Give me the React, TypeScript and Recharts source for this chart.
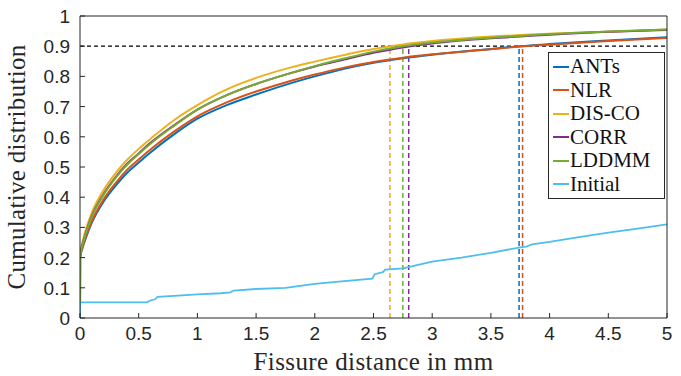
import React from 'react';
import { LineChart, Line, XAxis, YAxis, ReferenceLine, Legend } from 'recharts';

// Shared x grid for the registered-method CDFs (mm)
const methodX = [0, 0.001, 0.02, 0.05, 0.1, 0.2, 0.3, 0.4, 0.5, 0.6, 0.8, 1, 1.25, 1.5, 1.75, 2, 2.25, 2.5, 2.75, 3, 3.5, 3.75, 4, 4.5, 5];
const antsY = [0, 0.2, 0.23, 0.265, 0.315, 0.385, 0.437, 0.48, 0.515, 0.548, 0.608, 0.66, 0.705, 0.74, 0.772, 0.8, 0.825, 0.845, 0.86, 0.872, 0.891, 0.9, 0.907, 0.919, 0.93];
const nlrY = [0, 0.2, 0.232, 0.27, 0.32, 0.392, 0.445, 0.49, 0.525, 0.558, 0.617, 0.668, 0.714, 0.75, 0.78, 0.806, 0.829, 0.848, 0.862, 0.873, 0.89, 0.899, 0.905, 0.917, 0.927];
const discoY = [0, 0.21, 0.25, 0.293, 0.348, 0.423, 0.478, 0.523, 0.56, 0.593, 0.655, 0.705, 0.757, 0.795, 0.825, 0.849, 0.871, 0.891, 0.906, 0.917, 0.932, 0.937, 0.941, 0.948, 0.955];
const corrY = [0, 0.2, 0.24, 0.282, 0.337, 0.41, 0.465, 0.51, 0.545, 0.58, 0.638, 0.69, 0.738, 0.775, 0.806, 0.833, 0.856, 0.878, 0.896, 0.909, 0.926, 0.932, 0.938, 0.948, 0.954];
const lddmmY = [0, 0.2, 0.239, 0.28, 0.335, 0.407, 0.462, 0.507, 0.543, 0.577, 0.636, 0.69, 0.738, 0.775, 0.806, 0.834, 0.859, 0.882, 0.9, 0.912, 0.928, 0.934, 0.94, 0.949, 0.955];

const initialX = [0, 0, 0.57, 0.6, 0.64, 0.66, 0.8, 1.0, 1.2, 1.28, 1.31, 1.5, 1.75, 2.0, 2.25, 2.49, 2.51, 2.58, 2.6, 2.75, 3.0, 3.25, 3.5, 3.75, 3.8, 3.85, 4.0, 4.25, 4.5, 4.75, 5.0];
const initialY = [0, 0.052, 0.052, 0.058, 0.062, 0.07, 0.073, 0.078, 0.082, 0.085, 0.091, 0.096, 0.1, 0.113, 0.122, 0.13, 0.145, 0.152, 0.16, 0.164, 0.187, 0.2, 0.216, 0.234, 0.236, 0.244, 0.252, 0.268, 0.283, 0.296, 0.31];

const seriesNames = ['ANTs', 'NLR', 'DIS-CO', 'CORR', 'LDDMM', 'Initial'];
const seriesColors = ['#0072BD', '#D95319', '#EDB120', '#7E2F8E', '#77AC30', '#4DBEEE'];
// distance where each method reaches the 0.9 level
const crossingX = [3.74, 3.77, 2.64, 2.8, 2.75];
const crossingLevel = 0.9;

const xTicks = [0, 0.5, 1, 1.5, 2, 2.5, 3, 3.5, 4, 4.5, 5];
const yTicks = [0, 0.1, 0.2, 0.3, 0.4, 0.5, 0.6, 0.7, 0.8, 0.9, 1];

const methodYs = [antsY, nlrY, discoY, corrY, lddmmY];
const methodData = methodYs.map((ys) => methodX.map((x, i) => ({ x, y: ys[i] })));
const initialData = initialX.map((x, i) => ({ x, y: initialY[i] }));

const AX = '#262626';
const tickFont = '"Liberation Sans", Arial, sans-serif';
const serif = '"Liberation Serif", "Times New Roman", serif';

const BottomTick = (p: any) => (
  <g>
    <line x1={p.x} x2={p.x} y1={p.y} y2={p.y - 5} stroke={AX} strokeWidth={1} />
    <text x={p.x} y={p.y + 22} textAnchor="middle" fontFamily={tickFont} fontSize={19} fill={AX}>
      {String(p.payload.value)}
    </text>
  </g>
);
const TopTick = (p: any) => (
  <line x1={p.x} x2={p.x} y1={p.y} y2={p.y + 5} stroke={AX} strokeWidth={1} />
);
const LeftTick = (p: any) => (
  <g>
    <line x1={p.x} x2={p.x + 5} y1={p.y} y2={p.y} stroke={AX} strokeWidth={1} />
    <text x={p.x - 10} y={p.y + 7} textAnchor="end" fontFamily={tickFont} fontSize={19} fill={AX}>
      {String(p.payload.value)}
    </text>
  </g>
);
const RightTick = (p: any) => (
  <line x1={p.x} x2={p.x - 5} y1={p.y} y2={p.y} stroke={AX} strokeWidth={1} />
);

const LegendBox = () => (
  <div
    style={{
      border: '1px solid #262626',
      background: '#fff',
      width: 115,
      height: 143,
      boxSizing: 'content-box',
      paddingTop: 2,
    }}
  >
    {seriesNames.map((n, i) => (
      <div key={n} style={{ display: 'flex', alignItems: 'center', height: 23.5 }}>
        <div style={{ width: 16, height: 2, background: seriesColors[i], marginLeft: 4, marginRight: 1 }} />
        <span style={{ fontFamily: serif, fontSize: 21, color: '#111', lineHeight: '23px' }}>{n}</span>
      </div>
    ))}
  </div>
);

export default function App() {
  return (
    <div style={{ position: 'absolute', left: 0, top: 0, background: '#fff' }}>
      <LineChart width={681} height={376} margin={{ top: 15, right: 13, bottom: 0, left: 0 }}>
        <XAxis
          xAxisId="bottom"
          dataKey="x"
          type="number"
          domain={[0, 5]}
          ticks={xTicks}
          allowDataOverflow
          height={58}
          tickSize={0}
          tickMargin={0}
          tickLine={false}
          axisLine={{ stroke: AX }}
          tick={BottomTick}
          interval={0}
          label={{
            value: 'Fissure distance in mm',
            position: 'insideBottom',
            offset: 6,
            style: { fontFamily: serif, fontSize: 25, fill: AX, letterSpacing: 0.4 },
          }}
        />
        <XAxis
          xAxisId="top"
          orientation="top"
          dataKey="x"
          type="number"
          domain={[0, 5]}
          ticks={xTicks}
          height={1}
          tickSize={0}
          tickMargin={0}
          tickLine={false}
          axisLine={{ stroke: AX }}
          tick={TopTick}
          interval={0}
        />
        <YAxis
          yAxisId="left"
          type="number"
          domain={[0, 1]}
          ticks={yTicks}
          width={80}
          tickSize={0}
          tickMargin={0}
          tickLine={false}
          axisLine={{ stroke: AX }}
          tick={LeftTick}
          interval={0}
          label={{
            value: 'Cumulative distribution',
            angle: -90,
            position: 'insideLeft',
            offset: 16,
            style: { textAnchor: 'middle', fontFamily: serif, fontSize: 25, fill: AX, letterSpacing: 0.3 },
          }}
        />
        <YAxis
          yAxisId="right"
          orientation="right"
          type="number"
          domain={[0, 1]}
          ticks={yTicks}
          width={1}
          tickSize={0}
          tickMargin={0}
          tickLine={false}
          axisLine={{ stroke: AX }}
          tick={RightTick}
          interval={0}
        />
        <ReferenceLine
          xAxisId="bottom"
          yAxisId="left"
          y={crossingLevel}
          stroke="#000"
          strokeWidth={1.2}
          strokeDasharray="4 3"
        />
        {crossingX.map((cx, i) => (
          <ReferenceLine
            key={'c' + i}
            xAxisId="bottom"
            yAxisId="left"
            segment={[
              { x: cx, y: 0 },
              { x: cx, y: crossingLevel },
            ]}
            stroke={seriesColors[i]}
            strokeWidth={1.5}
            strokeDasharray="5 3"
          />
        ))}
        {methodData.map((d, i) => (
          <Line
            key={seriesNames[i]}
            xAxisId="bottom"
            yAxisId="left"
            data={d}
            dataKey="y"
            name={seriesNames[i]}
            type="monotone"
            stroke={seriesColors[i]}
            strokeWidth={2}
            dot={false}
            activeDot={false}
            isAnimationActive={false}
          />
        ))}
        <Line
          xAxisId="bottom"
          yAxisId="left"
          data={initialData}
          dataKey="y"
          name={seriesNames[5]}
          type="linear"
          stroke={seriesColors[5]}
          strokeWidth={1.8}
          dot={false}
          activeDot={false}
          isAnimationActive={false}
        />
        <Legend
          layout="vertical"
          align="center"
          verticalAlign="middle"
          content={LegendBox}
          wrapperStyle={{ position: 'absolute', left: 548, top: 52, width: 118, height: 147 }}
        />
      </LineChart>
    </div>
  );
}
